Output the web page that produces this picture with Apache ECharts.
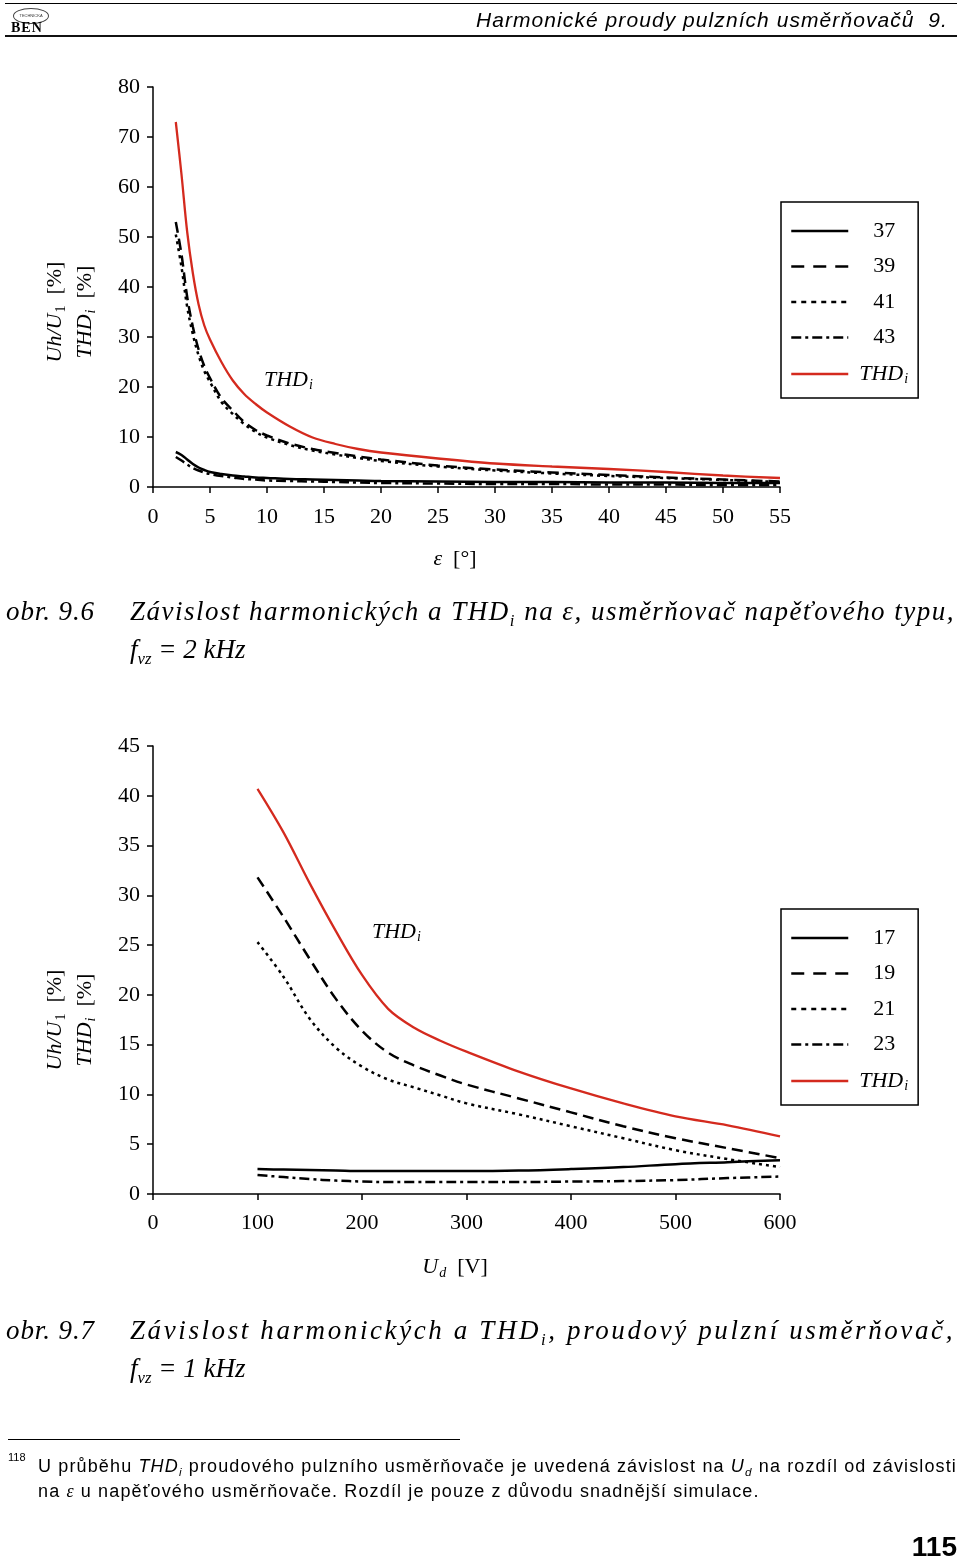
<!DOCTYPE html>
<html><head><meta charset="utf-8">
<script src="https://cdn.jsdelivr.net/npm/echarts@6/dist/echarts.min.js"></script>
<style>
html,body{margin:0;padding:0;background:#fff;}
#page{position:relative;width:960px;height:1560px;overflow:hidden;background:#fff;}
#chart{position:absolute;left:0;top:0;width:960px;height:1560px;}
.t{position:absolute;white-space:nowrap;color:#000;}
.cap{font-family:"Liberation Serif",serif;font-style:italic;font-size:27px;line-height:34px;}
.cap sub{font-size:62%;vertical-align:-0.35em;line-height:0;}
.fn{font-family:"Liberation Sans",sans-serif;font-size:18px;line-height:24px;}
.fn sub{font-size:65%;vertical-align:-0.3em;line-height:0;}
.rule{position:absolute;height:0;}
</style></head>
<body><div id="page">
<div id="chart"></div>
<div class="rule" style="left:5px;top:3px;width:952px;border-top:1.5px solid #000"></div>
<div class="rule" style="left:5px;top:35px;width:952px;border-top:2px solid #111"></div>
<div class="t" style="left:13px;top:8px;width:34px;height:14px;border:1px solid #444;border-radius:50%;font-size:4px;line-height:14px;text-align:center;font-family:'Liberation Sans',sans-serif;color:#333">TECHNICKÁ</div>
<div class="t" style="left:11px;top:21px;font-family:'Liberation Serif',serif;font-weight:bold;font-size:14px;line-height:14px;letter-spacing:1px">BEN</div>
<div class="t" id="hdr" style="right:12px;top:6px;font-family:'Liberation Sans',sans-serif;font-style:italic;font-size:21px;line-height:28px">Harmonické proudy pulzních usměrňovačů&nbsp; 9.</div>

<div class="t cap" id="o1" style="left:6px;top:594px">obr. 9.6</div>
<div class="t cap" id="c1" style="left:130px;top:594px">Závislost harmonických a THD<sub>i</sub> na ε, usměrňovač napěťového typu,</div>
<div class="t cap" style="left:130px;top:632px">f<sub>vz</sub> = 2 kHz</div>

<div class="t cap" id="o2" style="left:6px;top:1313px">obr. 9.7</div>
<div class="t cap" id="c2" style="left:130px;top:1313px">Závislost harmonických a THD<sub>i</sub>, proudový pulzní usměrňovač,</div>
<div class="t cap" style="left:130px;top:1351px">f<sub>vz</sub> = 1 kHz</div>

<div class="rule" style="left:8px;top:1439px;width:452px;border-top:1.5px solid #000"></div>
<div class="t fn" style="left:8px;top:1450px;font-size:11px;line-height:14px">118</div>
<div class="t fn" id="f1" style="left:38px;top:1454px">U průběhu <i>THD<sub>i</sub></i> proudového pulzního usměrňovače je uvedená závislost na <i>U<sub>d</sub></i> na rozdíl od závislosti</div>
<div class="t fn" id="f2" style="left:38px;top:1479px">na <i style="font-family:'Liberation Serif',serif">ε</i> u napěťového usměrňovače. Rozdíl je pouze z důvodu snadnější simulace.</div>
<div class="t" style="right:3px;top:1530px;font-family:'Liberation Sans',sans-serif;font-weight:bold;font-size:28px;line-height:34px">115</div>
</div>
<script>
// ---------- data: obr. 9.6 (voltage-type rectifier, f_vz = 2 kHz) ----------
const eps = [2, 2.5, 3, 3.5, 4, 4.5, 5, 6, 7, 8, 9, 10, 12, 14, 16, 18, 20, 25, 30, 35, 40, 45, 50, 55];
const h37 = [7, 6.4, 5.5, 4.6, 3.9, 3.4, 3.0, 2.6, 2.3, 2.1, 1.9, 1.8, 1.6, 1.5, 1.4, 1.3, 1.2, 1.1, 1.0, 1.0, 0.9, 0.9, 0.8, 0.8];
const h39 = [53, 46.5, 38, 32, 27.5, 24.2, 21.8, 17.8, 15.3, 13, 11.4, 10.3, 8.7, 7.6, 6.8, 6.1, 5.5, 4.3, 3.5, 2.9, 2.4, 1.9, 1.5, 1.1];
const h41 = [50.5, 44, 36, 30.5, 26.3, 23.2, 21, 17, 14.6, 12.6, 11, 9.9, 8.4, 7.3, 6.5, 5.8, 5.2, 4.1, 3.3, 2.7, 2.2, 1.8, 1.4, 1.0];
const h43 = [6, 5.3, 4.5, 3.8, 3.3, 2.9, 2.6, 2.2, 1.9, 1.6, 1.5, 1.3, 1.2, 1.1, 1.0, 0.9, 0.8, 0.7, 0.6, 0.6, 0.5, 0.5, 0.4, 0.4];
const thd1 = [73, 62.5, 51, 42.7, 36.5, 32.3, 29.5, 25, 21.3, 18.6, 16.6, 14.9, 12.1, 9.9, 8.6, 7.6, 6.9, 5.7, 4.7, 4.1, 3.6, 3.0, 2.3, 1.8];
const names1 = ['37', '39', '41', '43', 'THDi'];
const x1Range = [0, 55, 5];
const y1Range = [0, 80, 10];

// ---------- data: obr. 9.7 (current-type pulse rectifier, f_vz = 1 kHz) ----------
const ud = [100, 125, 150, 175, 200, 225, 250, 275, 300, 350, 400, 450, 500, 550, 600];
const h17 = [2.5, 2.45, 2.4, 2.35, 2.3, 2.3, 2.3, 2.3, 2.3, 2.35, 2.5, 2.7, 3.0, 3.2, 3.4];
const h19 = [31.8, 27.8, 23.6, 19.6, 16.4, 14.2, 12.9, 11.9, 11.0, 9.6, 8.2, 6.8, 5.6, 4.6, 3.6];
const h21 = [25.3, 21.8, 17.6, 14.7, 12.8, 11.5, 10.7, 9.9, 9.1, 8.0, 6.8, 5.6, 4.4, 3.5, 2.7];
const h23 = [1.9, 1.7, 1.5, 1.35, 1.25, 1.2, 1.2, 1.2, 1.2, 1.2, 1.25, 1.3, 1.4, 1.6, 1.75];
const thd2 = [40.7, 36.3, 31.2, 26.4, 22, 18.6, 16.7, 15.4, 14.3, 12.3, 10.6, 9.1, 7.8, 6.9, 5.8];
const names2 = ['17', '19', '21', '23', 'THDi'];
const x2Range = [0, 600, 100];
const y2Range = [0, 45, 5];

// ---------- styling ----------
const SERIF = '"Liberation Serif", "DejaVu Serif", serif';
const RED = '#d42a1e';
const styles = [
  {color: '#000', width: 2.5, type: 'solid'},
  {color: '#000', width: 2.5, type: [11, 6]},
  {color: '#000', width: 2.5, type: [3, 4]},
  {color: '#000', width: 2.5, type: [10, 4, 3, 4]},
  {color: RED, width: 2.3, type: 'solid'}
];
const legendDash = ['solid', [13, 9], [5, 5], [10, 4, 3, 4], 'solid'];
const rich = {
  it: {fontFamily: SERIF, fontStyle: 'italic', fontSize: 22, color: '#000', lineHeight: 20},
  n: {fontFamily: SERIF, fontSize: 22, color: '#000', lineHeight: 20},
  sub: {fontFamily: SERIF, fontStyle: 'italic', fontSize: 14, color: '#000', lineHeight: 14, padding: [10, 0, 0, 1]},
  subn: {fontFamily: SERIF, fontSize: 14, color: '#000', lineHeight: 14, padding: [10, 0, 0, 1]},
  num: {fontFamily: SERIF, fontSize: 22, color: '#000', lineHeight: 20, padding: [0, 0, 0, 20]},
  thd: {fontFamily: SERIF, fontStyle: 'italic', fontSize: 22, color: '#000', lineHeight: 20, padding: [0, 0, 0, 6]}
};
const axisRich = {
  it: {fontFamily: SERIF, fontStyle: 'italic', fontSize: 22, color: '#000', lineHeight: 30},
  n: {fontFamily: SERIF, fontSize: 22, color: '#000', lineHeight: 30},
  sub: {fontFamily: SERIF, fontStyle: 'italic', fontSize: 14, color: '#000', lineHeight: 14, padding: [12, 0, 0, 1]},
  subn: {fontFamily: SERIF, fontSize: 14, color: '#000', lineHeight: 14, padding: [12, 0, 0, 1]}
};

function mkX(grid, r, name, gap, lm) {
  return {
    gridIndex: grid, type: 'value', min: r[0], max: r[1], interval: r[2],
    axisLine: {lineStyle: {color: '#000', width: 1.5}},
    axisTick: {length: 6, lineStyle: {color: '#000', width: 1.5}},
    axisLabel: {color: '#000', fontFamily: SERIF, fontSize: 22, margin: lm},
    splitLine: {show: false},
    name: name, nameLocation: 'middle', nameGap: gap,
    nameTextStyle: {rich: axisRich, padding: [0, 23, 0, 0]}
  };
}
function mkY(grid, r, shift) {
  return {
    gridIndex: grid, type: 'value', min: r[0], max: r[1], interval: r[2],
    axisLine: {show: true, lineStyle: {color: '#000', width: 1.5}},
    axisTick: {show: true, length: 6, lineStyle: {color: '#000', width: 1.5}},
    axisLabel: {color: '#000', fontFamily: SERIF, fontSize: 22, margin: 13},
    splitLine: {show: false},
    name: '{it|Uh/U}{subn|1}{n|  [%]}\n{it|THD}{sub|i}{n|  [%]}',
    nameLocation: 'middle', nameRotate: 90, nameGap: 53,
    nameTextStyle: {rich: axisRich, padding: [0, shift, 0, 0]}
  };
}
function mkSeries(name, xs, ys, idx, st) {
  return {
    name: name, type: 'line', xAxisIndex: idx, yAxisIndex: idx,
    data: xs.map((x, i) => [x, ys[i]]),
    symbol: 'none', showSymbol: false, smooth: 0.35,
    lineStyle: {color: st.color, width: st.width, type: st.type},
    itemStyle: {color: st.color},
    silent: true, z: st.color === RED ? 3 : 2
  };
}
function mkLegend(names, top) {
  return {
    data: names.map((n, k) => ({name: n, lineStyle: {type: legendDash[k]}})),
    orient: 'vertical', left: 781, top: top,
    padding: [18, 10, 12, 9], borderColor: '#000', borderWidth: 1.5,
    itemWidth: 57, itemHeight: 20, itemGap: 13.5,
    selectedMode: false,
    lineStyle: {width: 2.5},
    itemStyle: {opacity: 0, color: 'rgba(0,0,0,0)', borderWidth: 0},
    formatter: n => n === 'THDi' ? '{thd|THD}{sub|i}' : '{num|' + n + '}',
    textStyle: {rich: rich}
  };
}

const series = [];
[h37, h39, h41, h43, thd1].forEach((ys, k) => series.push(mkSeries(names1[k], eps, ys, 0, styles[k])));
[h17, h19, h21, h23, thd2].forEach((ys, k) => series.push(mkSeries(names2[k], ud, ys, 1, styles[k])));

const chart = echarts.init(document.getElementById('chart'), null, {renderer: 'canvas'});
chart.setOption({
  animation: false,
  backgroundColor: 'transparent',
  grid: [
    {left: 153, top: 87, width: 627, height: 400},
    {left: 153, top: 746, width: 627, height: 448}
  ],
  xAxis: [mkX(0, x1Range, '{it|ε}{n|  [°]}', 57, 19), mkX(1, x2Range, '{it|U}{sub|d}{n|  [V]}', 58, 18)],
  yAxis: [mkY(0, y1Range, 50), mkY(1, y2Range, 100)],
  legend: [mkLegend(names1, 202), mkLegend(names2, 909)],
  graphic: [
    {type: 'text', left: 264, top: 368, style: {text: '{it|THD}{sub|i}', rich: rich}},
    {type: 'text', left: 372, top: 920, style: {text: '{it|THD}{sub|i}', rich: rich}}
  ],
  series: series
});

// fit text widths of page texts to the reference
function fit(id, target) {
  const el = document.getElementById(id);
  const w = el.getBoundingClientRect().width;
  const n = el.textContent.length;
  const ls = (target - w) / n;
  el.style.letterSpacing = ls + 'px';
  return ls;
}
fit('hdr', 472);
fit('o1', 89); fit('o2', 89);
fit('c1', 825); fit('c2', 825);
const lsf = fit('f1', 919);
document.getElementById('f2').style.letterSpacing = lsf + 'px';
</script>
</body></html>
